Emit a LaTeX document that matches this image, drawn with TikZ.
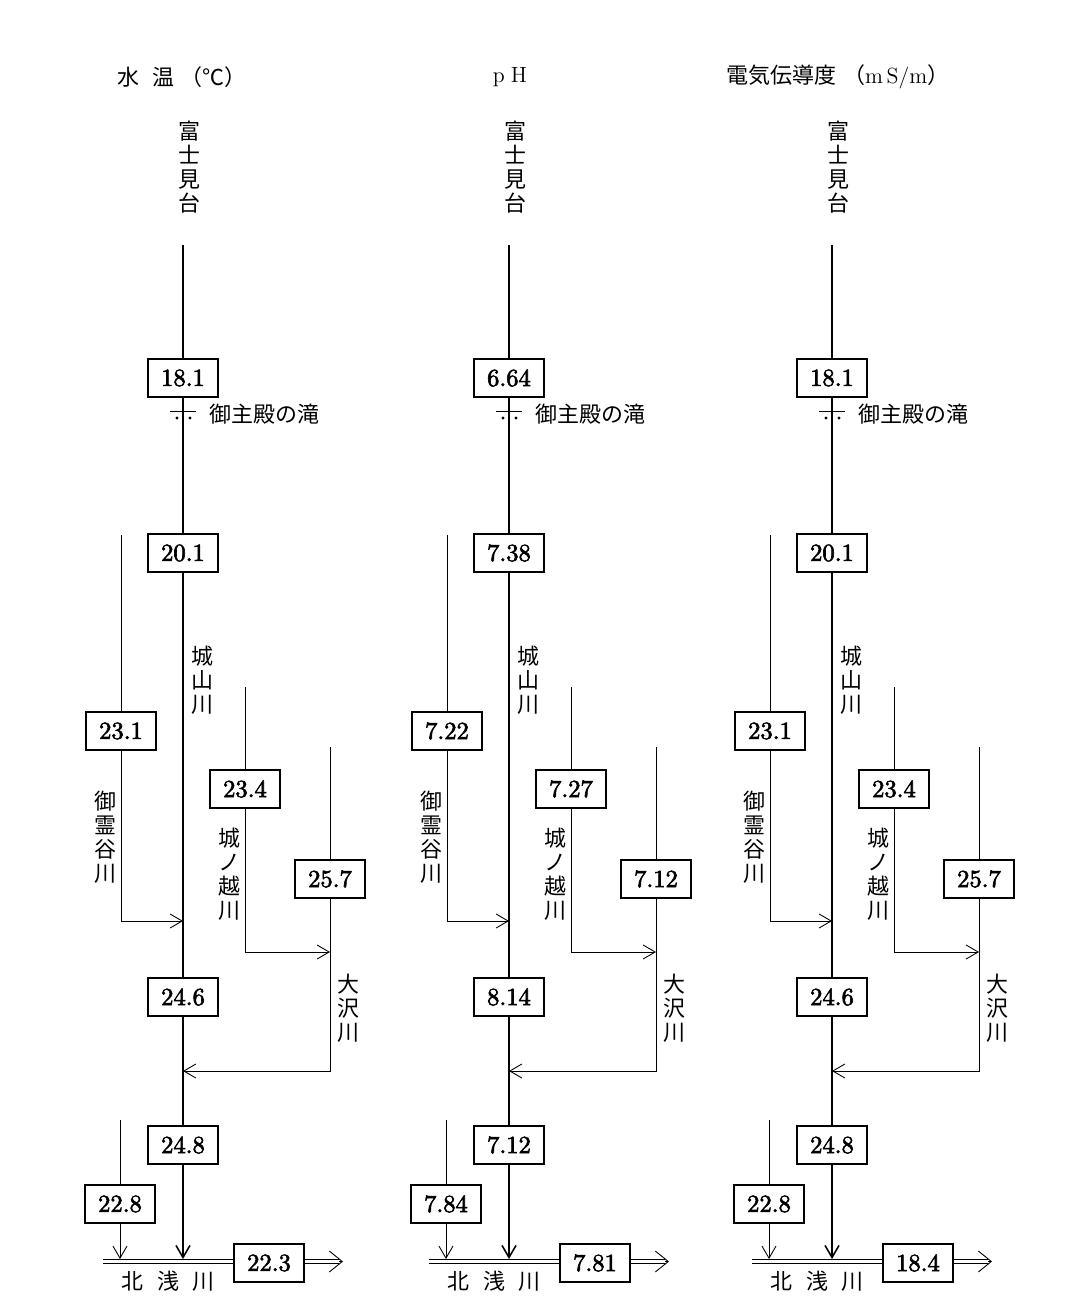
\documentclass[tikz,border=0pt]{standalone}
\usepackage{fontspec}
\newfontfamily\jp{Noto Sans CJK JP}
\newfontfamily\numfont{lmroman10-regular.otf}[FakeBold=2.5]
\usetikzlibrary{arrows.meta,calc}
\tikzset{
  val/.style={
    draw,
    fill = white,
    line width = 0.7pt,
    minimum width = 1.4cm,
    minimum height = 0.76cm,
    inner sep = 0pt,
    font = \numfont\fontsize{14}{16}\selectfont
  },
  jlabel/.style={
    inner sep = 0pt,
    align = center,
    font = \jp\fontsize{12.5}{13.6}\selectfont
  },
  main/.style={line width = 0.9pt},
  trib/.style={line width = 0.5pt},
  arr/.style={-{Straight Barb[length=2.4mm,width=2.8mm]}},
  bigarr/.style={-{Straight Barb[length=2.6mm,width=4.2mm]}},
  kita/.style={line width = 0.5pt, double, double distance = 0.07cm}
}
\begin{document}
\begin{tikzpicture}[x=0.02cm,y=-0.02cm]
  \useasboundingbox (0,0) rectangle (1088,1311);
  \foreach \i/\mx/\tx/\ttl/\va/\vb/\vg/\vk/\vo/\vc/\vd/\vh/\ve in {
    1/183/182/{\jp 水\hspace{0.6em}温\hspace{0.3em}（℃）}/18.1/20.1/23.1/23.4/25.7/24.6/24.8/22.8/22.3,
    2/509/510/{\rmfamily p\;H}/6.64/7.38/7.22/7.27/7.12/8.14/7.12/7.84/7.81,
    3/832/838/{{\jp 電気伝導度\hspace{0.3em}（}{\rmfamily m\,S/m}{\jp ）}}/18.1/20.1/23.1/23.4/25.7/24.6/24.8/22.8/18.4}{
    % title and source
    \node[jlabel] (t\i) at (\tx,77) {\ttl};
    \node[jlabel] (f\i) at (\mx+6,167) {富\\士\\見\\台};
    \coordinate (s\i) at (\mx,245);
    % main stream
    \node[val] (a\i) at (\mx,378) {\va};
    \node[val] (b\i) at (\mx,553) {\vb};
    \node[val] (c\i) at (\mx,997) {\vc};
    \node[val] (d\i) at (\mx,1145) {\vd};
    \coordinate (m\i) at (\mx,1259);
    \draw[main] (s\i) -- (a\i) -- (b\i) -- (c\i) -- (d\i);
    \draw[main,arr] (d\i) -- (m\i);
    \node[jlabel] (sy\i) at (\mx+19,680) {城\\山\\川};
    % waterfall
    \coordinate (w\i) at (\mx,411);
    \draw[trib] ($(w\i)+(-13,0)$) -- ++(26,0);
    \fill ($(w\i)+(-6,7)$) circle (0.9pt) ($(w\i)+(7,7)$) circle (0.9pt);
    \node[jlabel,anchor=west] (fall\i) at (\mx+26,414) {御主殿の滝};
    % left tributary
    \coordinate (gs\i) at (\mx-62,535);
    \node[val] (g\i) at (\mx-62,731) {\vg};
    \coordinate (gj\i) at (\mx-62,921);
    \coordinate (gm\i) at (\mx,921);
    \draw[trib,arr] (gs\i) -- (g\i) -- (gj\i) -- (gm\i);
    \node[jlabel] (gl\i) at (\mx-78,837) {御\\霊\\谷\\川};
    % second tributary into the third
    \coordinate (ks\i) at (\mx+62,687);
    \node[val] (k\i) at (\mx+62,789) {\vk};
    \coordinate (kj\i) at (\mx+62,952);
    \coordinate (ko\i) at (\mx+147,952);
    \draw[trib,arr] (ks\i) -- (k\i) -- (kj\i) -- (ko\i);
    \node[jlabel] (kl\i) at (\mx+46,874) {城\\ノ\\越\\川};
    % third tributary
    \coordinate (os\i) at (\mx+147,747);
    \node[val] (o\i) at (\mx+147,879) {\vo};
    \coordinate (oj\i) at (\mx+147,1071);
    \coordinate (om\i) at (\mx,1071);
    \draw[trib,arr] (os\i) -- (o\i) -- (oj\i) -- (om\i);
    \node[jlabel] (ol\i) at (\mx+165,1008) {大\\沢\\川};
    % lower left tributary
    \coordinate (hs\i) at (\mx-63,1120);
    \node[val] (h\i) at (\mx-63,1204) {\vh};
    \coordinate (hj\i) at (\mx-63,1259);
    \draw[trib,arr] (hs\i) -- (h\i) -- (hj\i);
    % Kitaasa river
    \coordinate (r\i) at (\mx-80,1261.5);
    \node[val] (e\i) at (\mx+86,1263) {\ve};
    \coordinate (rd\i) at (\mx+156,1261.5);
    \coordinate (re\i) at (\mx+160,1261.5);
    \draw[kita] (r\i) -- (r\i -| e\i.west);
    \draw[kita] (r\i -| e\i.east) -- (rd\i);
    \draw[trib,bigarr] (rd\i) -- (re\i);
    \node[jlabel] (rl\i) at (\mx-15,1281) {北\hspace{0.6em}浅\hspace{0.6em}川};
  }
\end{tikzpicture}
\end{document}
